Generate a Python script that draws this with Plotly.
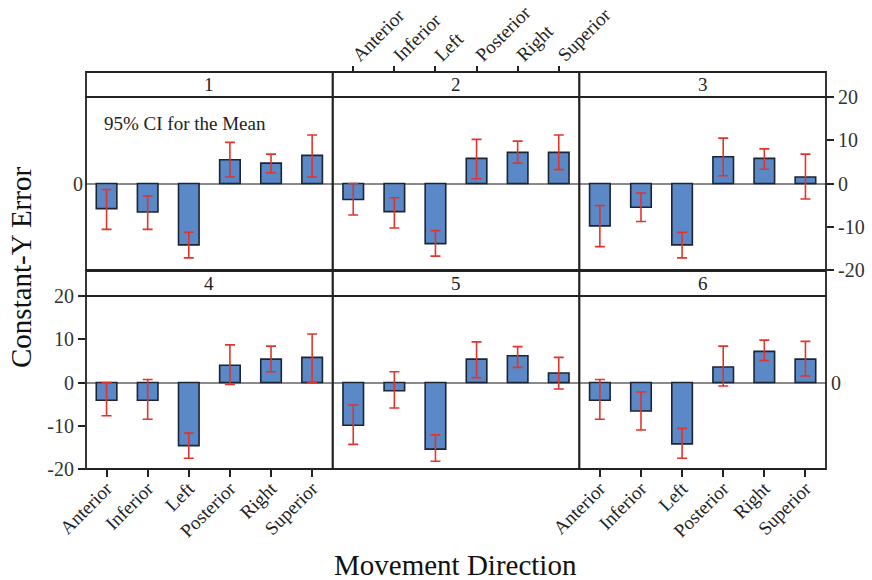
import plotly.graph_objects as go

categories = ["Anterior", "Inferior", "Left", "Posterior", "Right", "Superior"]
panels = ["1", "2", "3", "4", "5", "6"]

means_1 = [-5.8, -6.6, -14.2, 5.5, 4.7, 6.5]
low_1 = [-10.6, -10.6, -17.2, 1.5, 2.5, 1.5]
high_1 = [-1.4, -2.9, -11.3, 9.5, 6.8, 11.2]

means_2 = [-3.7, -6.5, -13.9, 5.8, 7.2, 7.2]
low_2 = [-7.3, -10.3, -16.8, 1.1, 4.7, 3.2]
high_2 = [0.0, -3.3, -10.9, 10.2, 9.8, 11.2]

means_3 = [-9.8, -5.5, -14.2, 6.2, 5.8, 1.5]
low_3 = [-14.6, -8.8, -17.2, 1.8, 3.3, -3.6]
high_3 = [-5.1, -2.2, -11.3, 10.5, 8.0, 6.8]

means_4 = [-4.1, -4.1, -14.6, 4.0, 5.4, 5.8]
low_4 = [-7.7, -8.5, -17.5, -0.45, 2.5, 0.0]
high_4 = [0.0, 0.7, -11.7, 8.7, 8.4, 11.2]

means_5 = [-9.9, -1.9, -15.4, 5.4, 6.2, 2.2]
low_5 = [-14.3, -5.9, -18.2, 1.1, 3.5, -1.5]
high_5 = [-5.2, 2.5, -12.1, 9.4, 8.3, 5.8]

means_6 = [-4.1, -6.6, -14.2, 3.6, 7.2, 5.4]
low_6 = [-8.5, -11.0, -17.5, -0.8, 5.1, 1.5]
high_6 = [0.7, -2.2, -10.6, 8.4, 9.8, 9.5]

y_ticks = [-20, -10, 0, 10, 20]
y_tick_labels = ["-20", "-10", "0", "10", "20"]

all_means = [means_1, means_2, means_3, means_4, means_5, means_6]
all_low = [low_1, low_2, low_3, low_4, low_5, low_6]
all_high = [high_1, high_2, high_3, high_4, high_5, high_6]

W, H = 872, 580
FONT = "Liberation Serif"
BAR = "#5b88c6"
EDGE = "#1c2533"
ERR = "#e2342b"
LINE = "#222222"

col_px = [(86, 332.7), (332.7, 579.3), (579.3, 826)]
row_px = [(97, 270), (296, 469)]  # plot area top/bottom
strip_h = 25


def px(x):
    return x / W


def py(y):
    return 1 - y / H


fig = go.Figure()
shapes = []
annotations = []

for i, name in enumerate(panels):
    r, c = divmod(i, 3)
    n = i + 1
    xa = "x" if n == 1 else f"x{n}"
    ya = "y" if n == 1 else f"y{n}"
    m = all_means[i]
    plus = [h - v for h, v in zip(all_high[i], m)]
    minus = [v - lo for v, lo in zip(m, all_low[i])]
    fig.add_trace(go.Bar(
        x=categories, y=m, xaxis=xa, yaxis=ya, width=0.5,
        marker=dict(color=BAR, line=dict(color=EDGE, width=1.6)),
        error_y=dict(type="data", symmetric=False, array=plus, arrayminus=minus,
                     color=ERR, thickness=1.6, width=5),
        showlegend=False, hoverinfo="skip",
    ))
    x0, x1 = col_px[c]
    t, b = row_px[r]
    xdom = [px(x0), px(x1)]
    ydom = [py(b), py(t)]
    xkey = "xaxis" if n == 1 else f"xaxis{n}"
    ykey = "yaxis" if n == 1 else f"yaxis{n}"

    xaxis = dict(domain=xdom, anchor=ya, range=[-0.5, 5.5], type="category",
                 showgrid=False, zeroline=False, showline=False, automargin=False,
                 showticklabels=False, ticks="",
                 tickfont=dict(family=FONT, size=19, color="#222"))
    if n in (4, 6):
        xaxis.update(showticklabels=True, ticks="outside", ticklen=7,
                     tickcolor=LINE, tickwidth=1.5, tickangle=-45,
                     ticklabelstandoff=-7)
    if n == 2:
        xaxis.update(showticklabels=True, ticks="outside", ticklen=6,
                     tickcolor=LINE, tickwidth=1.5, tickangle=-45,
                     side="top", anchor="free", position=py(t - strip_h),
                     ticklabelstandoff=-7)
    yaxis = dict(domain=ydom, anchor=xa, range=[-20, 20], automargin=False,
                 showgrid=False, zeroline=True, zerolinecolor="#8a8a8a",
                 zerolinewidth=1.5, showline=False, showticklabels=False,
                 ticks="", tickvals=y_ticks, ticktext=y_tick_labels,
                 tickfont=dict(family=FONT, size=20, color="#333"))
    if n == 4:
        yaxis.update(showticklabels=True, ticks="outside", ticklen=7,
                     tickcolor=LINE, tickwidth=1.5, side="left")
    if n == 3:
        yaxis.update(showticklabels=True, ticks="outside", ticklen=7,
                     tickcolor=LINE, tickwidth=1.5, side="right")
    if n == 1:
        yaxis.update(showticklabels=True, tickvals=[0], ticktext=["0"],
                     side="left", ticks="", ticklabelstandoff=2)
    if n == 6:
        yaxis.update(showticklabels=True, tickvals=[0], ticktext=["0"],
                     side="right", ticks="", ticklabelstandoff=4)
    fig.update_layout({xkey: xaxis, ykey: yaxis})

    # plot-area border
    shapes.append(dict(type="rect", xref="paper", yref="paper",
                       x0=px(x0), x1=px(x1), y0=py(b), y1=py(t),
                       line=dict(color=LINE, width=1.8)))
    # strip box
    shapes.append(dict(type="rect", xref="paper", yref="paper",
                       x0=px(x0), x1=px(x1), y0=py(t), y1=py(t - strip_h),
                       line=dict(color=LINE, width=1.8)))
    annotations.append(dict(text=name, xref="paper", yref="paper",
                            x=px((x0 + x1) / 2), y=py(t - strip_h / 2),
                            showarrow=False, xanchor="center", yanchor="middle",
                            font=dict(family=FONT, size=19, color="#222")))

annotations.append(dict(text="95% CI for the Mean", xref="paper", yref="paper",
                        x=px(102), y=py(124), showarrow=False,
                        xanchor="left", yanchor="middle",
                        font=dict(family=FONT, size=19, color="#222")))
annotations.append(dict(text="Constant-Y Error", xref="paper", yref="paper",
                        x=px(21), y=py(268), showarrow=False, textangle=-90,
                        xanchor="center", yanchor="middle",
                        font=dict(family=FONT, size=29, color="#111")))
annotations.append(dict(text="Movement Direction", xref="paper", yref="paper",
                        x=px(455), y=py(565), showarrow=False,
                        xanchor="center", yanchor="middle",
                        font=dict(family=FONT, size=29, color="#111")))

fig.update_layout(width=W, height=H, margin=dict(l=0, r=0, t=0, b=0),
                  paper_bgcolor="white", plot_bgcolor="white",
                  shapes=shapes, annotations=annotations, bargap=0.5)
fig.write_html("out.html")
